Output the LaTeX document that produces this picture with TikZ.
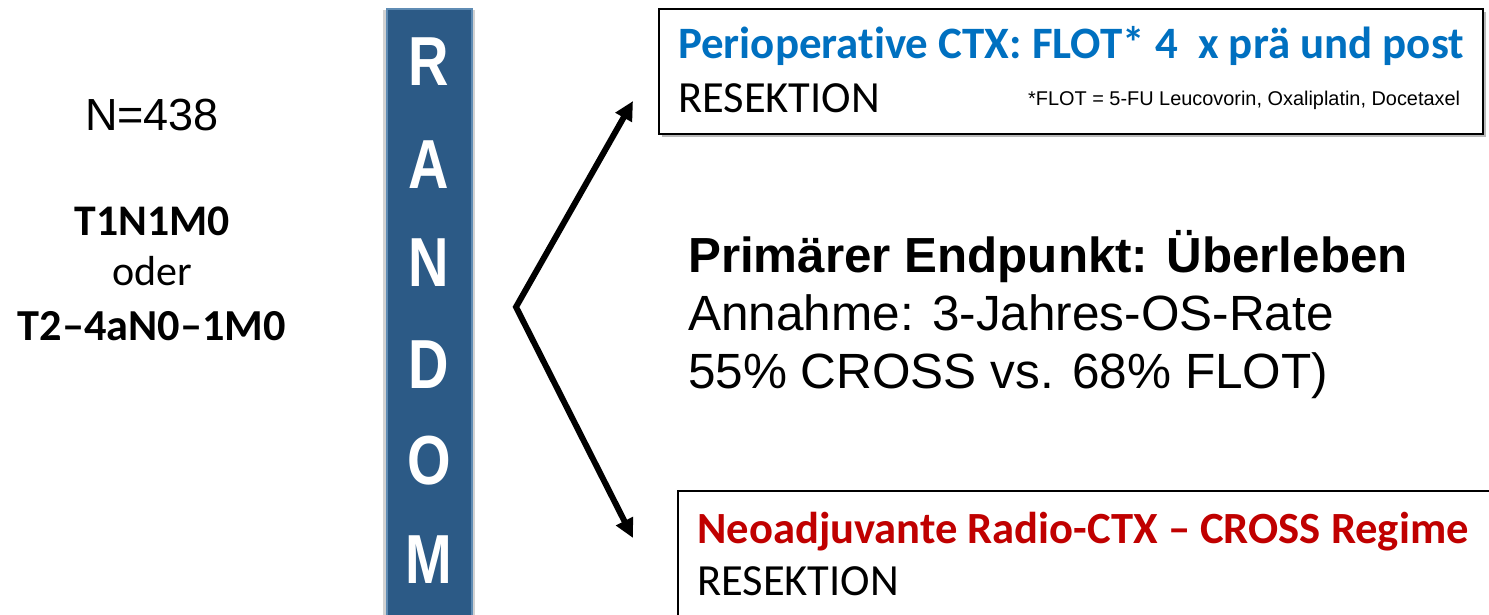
\documentclass[tikz,border=0pt]{standalone}
\usepackage{fontspec}
\setmainfont{Carlito}[Ligatures=NoCommon]
\newfontfamily\arialf{Liberation Sans}
\usetikzlibrary{arrows.meta}
\definecolor{barblue}{RGB}{44,90,134}
\definecolor{baredge}{RGB}{95,140,180}
\definecolor{flotblue}{RGB}{0,112,192}
\definecolor{crossred}{RGB}{192,0,0}
\tikzset{
  bartxt/.style={text=white, font=\arialf\bfseries\fontsize{56}{56}\selectfont, anchor=base},
  boxframe/.style={draw=black, line width=2pt, fill=white},
  arr/.style={line width=6pt, {Triangle[length=19pt,width=18pt]}-{Triangle[length=19pt,width=18pt]}, line join=miter},
}
\begin{document}
\begin{tikzpicture}[x=1pt,y=-1pt]
\useasboundingbox (0,0) rectangle (1489,614);
% left texts
\node[anchor=base, font=\arialf\fontsize{45}{45}\selectfont, inner sep=0] (n) at (152,130) {N=438};
\node[anchor=base, font=\bfseries\fontsize{43.7}{44}\selectfont, inner sep=0] (t1) at (152,235) {T1N1M0};
\node[anchor=base, font=\fontsize{42}{42}\selectfont, inner sep=0] (od) at (152,285) {oder};
\node[anchor=base, font=\bfseries\fontsize{44.3}{44}\selectfont, inner sep=0] (t2) at (152,340) {T2--4aN0--1M0};
% random bar
\fill[gray!35] (383,10) rectangle (475,616);
\node[draw=baredge, line width=1.5pt, fill=barblue, minimum width=85pt, minimum height=610pt, inner sep=0, anchor=north west] (bar) at (386,8) {};
\foreach \l/\y [count=\i] in {R/85,A/188,N/286,D/388,O/484,M/583}
  \node[bartxt, inner sep=0] (r\i) at (429,\y) {\scalebox{1}[1.24]{\l}};
% arrows
\coordinate (v) at (516,307);
\coordinate (a1) at (633,101);
\coordinate (a2) at (633,538);
\draw[arr] (a1) -- (v) -- (a2);
% top box
\fill[gray!55] (662,12) rectangle (1486,137);
\node[boxframe, minimum width=824pt, minimum height=125pt, inner sep=0, anchor=north west] (top) at (658,8) {};
\node[anchor=base west, inner sep=0, text=flotblue, font=\bfseries\fontsize{44.9}{45}\selectfont] (toph) at (678,58) {Perioperative CTX: FLOT* 4\ \ x prä und post};
\node[anchor=base west, inner sep=0, font=\fontsize{44.5}{44}\selectfont] (topr) at (678,112) {RESEKTION};
\node[anchor=base west, inner sep=0, font=\arialf\fontsize{19.9}{20}\selectfont] (topf) at (1028,105) {*FLOT = 5-FU Leucovorin, Oxaliplatin, Docetaxel};
% bottom box
\fill[gray!55] (681,494) rectangle (1493,620);
\node[boxframe, minimum width=820pt, minimum height=130pt, inner sep=0, anchor=north west] (bot) at (677,490) {};
\node[anchor=base west, inner sep=0, text=crossred, font=\bfseries\fontsize{44.6}{45}\selectfont] (both) at (697,543) {Neoadjuvante Radio-CTX -- CROSS Regime};
\node[anchor=base west, inner sep=0, font=\fontsize{44.5}{44}\selectfont] (botr) at (697,595) {RESEKTION};
% center text
\node[anchor=base west, inner sep=0, font=\arialf\bfseries\fontsize{49.3}{50}\selectfont] (c1) at (688,272) {Primärer Endpunkt: Überleben};
\node[anchor=base west, inner sep=0, font=\arialf\fontsize{49.5}{50}\selectfont] (c2) at (688,330) {Annahme: 3-Jahres-OS-Rate};
\node[anchor=base west, inner sep=0, font=\arialf\fontsize{49.5}{50}\selectfont] (c3) at (688,388) {55\% CROSS vs. 68\% FLOT)};
\end{tikzpicture}
\end{document}
